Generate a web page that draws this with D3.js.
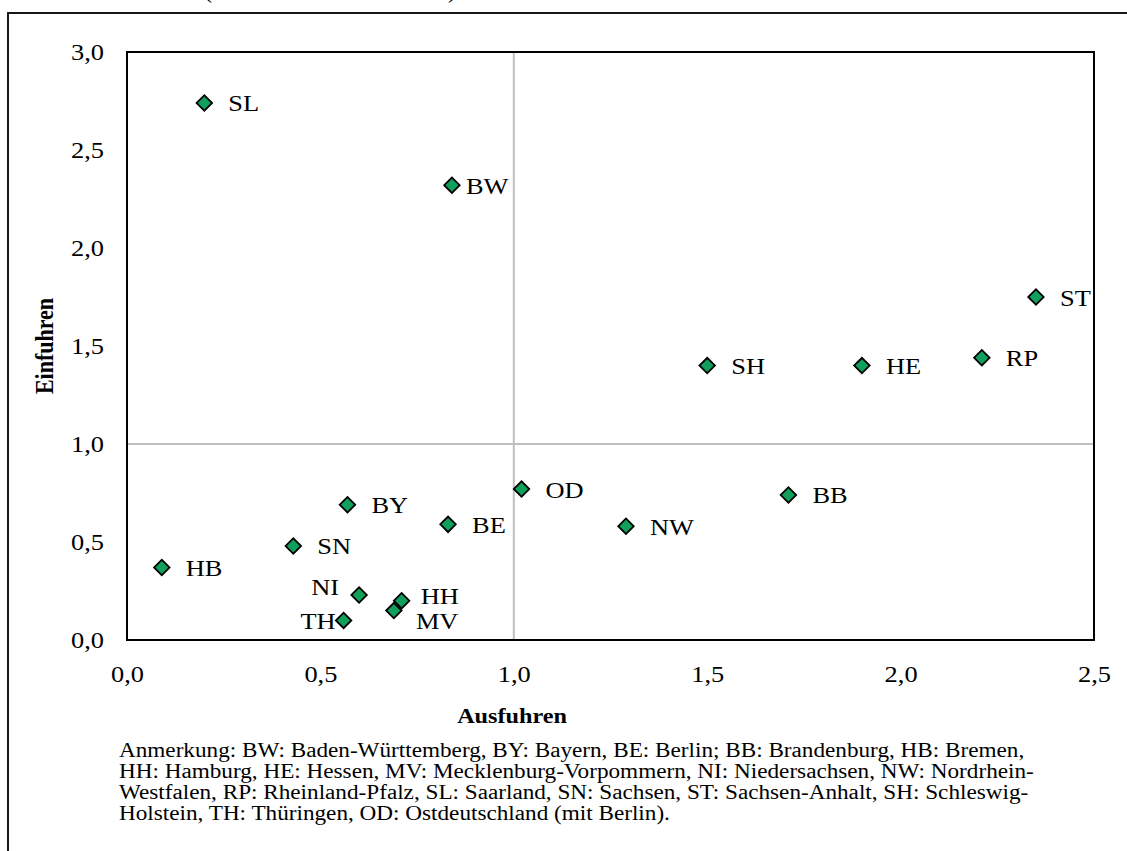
<!DOCTYPE html>
<html>
<head>
<meta charset="utf-8">
<script src="https://cdn.jsdelivr.net/npm/d3@7"></script>
<style>
  html, body { margin: 0; padding: 0; background: #fff; }
  svg { display: block; font-family: "Liberation Serif", "Times New Roman", serif; }
</style>
</head>
<body>
<svg id="chart" width="1127" height="851"></svg>
<script>
// ---- data ----
const codes   = ["SL", "BW", "ST", "SH", "HE", "RP", "BB", "OD", "NW", "BE", "BY", "SN", "HB", "NI", "HH", "MV", "TH"];
const exportsV = [0.20, 0.84, 2.35, 1.50, 1.90, 2.21, 1.71, 1.02, 1.29, 0.83, 0.57, 0.43, 0.09, 0.60, 0.71, 0.69, 0.56];
const importsV = [2.74, 2.32, 1.75, 1.40, 1.40, 1.44, 0.74, 0.77, 0.58, 0.59, 0.69, 0.48, 0.37, 0.23, 0.20, 0.15, 0.10];
const xTicks = [0, 0.5, 1.0, 1.5, 2.0, 2.5];
const yTicks = [0, 0.5, 1.0, 1.5, 2.0, 2.5, 3.0];
const xTitle = "Ausfuhren";
const yTitle = "Einfuhren";
const noteLines = [
  "Anmerkung: BW: Baden-Württemberg, BY: Bayern, BE: Berlin; BB: Brandenburg, HB: Bremen,",
  "HH: Hamburg, HE: Hessen, MV: Mecklenburg-Vorpommern, NI: Niedersachsen, NW: Nordrhein-",
  "Westfalen, RP: Rheinland-Pfalz, SL: Saarland, SN: Sachsen, ST: Sachsen-Anhalt, SH: Schleswig-",
  "Holstein, TH: Thüringen, OD: Ostdeutschland (mit Berlin)."
];

// label placement (style, not data)
const labelPlace = {
  BW: {dx: 14, dy: 8.5, anchor: "start"},
  NI: {dx: -20, dy: 0, anchor: "end"},
  TH: {dx: -8, dy: 9, anchor: "end"},
  HH: {dx: 19, dy: 3.5, anchor: "start"},
  MV: {dx: 22, dy: 18, anchor: "start"}
};
const defaultPlace = {dx: 24, dy: 8.5, anchor: "start"};
const place = c => labelPlace[c] || defaultPlace;

// ---- layout ----
const svg = d3.select("#chart");
const pL = 127, pR = 1094, pT = 52, pB = 640;
const x = d3.scaleLinear().domain([0, 2.5]).range([pL, pR]);
const y = d3.scaleLinear().domain([0, 3.0]).range([pB, pT]);
const fmt = d3.formatLocale({decimal: ",", thousands: ".", grouping: [3], currency: ["", " €"]}).format(".1f");
const stretch = 1.1;   // glyphs in the reference are slightly wider than tall

// outer frame
svg.append("rect").attr("x", 8).attr("y", 13).attr("width", 1200).attr("height", 900)
  .attr("fill", "none").attr("stroke", "#000").attr("stroke-width", 1.8);

// clipped title remnants at the very top
svg.append("text").attr("x", 204).attr("y", -2).attr("font-size", 24).text("(");
svg.append("text").attr("x", 448).attr("y", -2).attr("font-size", 24).text(")");

// crossing lines at 1,0
svg.append("line").attr("x1", x(1)).attr("x2", x(1)).attr("y1", pT).attr("y2", pB)
  .attr("stroke", "#bfbfbf").attr("stroke-width", 2);
svg.append("line").attr("x1", pL).attr("x2", pR).attr("y1", y(1)).attr("y2", y(1))
  .attr("stroke", "#bfbfbf").attr("stroke-width", 2);

// plot frame
svg.append("rect").attr("x", pL).attr("y", pT).attr("width", pR - pL).attr("height", pB - pT)
  .attr("fill", "none").attr("stroke", "#000").attr("stroke-width", 2);

// axes
const gx = svg.append("g").attr("transform", `translate(0,${pB})`)
  .call(d3.axisBottom(x).tickValues(xTicks).tickFormat(fmt).tickSize(0).tickPadding(25));
const gy = svg.append("g").attr("transform", `translate(${pL},0)`)
  .call(d3.axisLeft(y).tickValues(yTicks).tickFormat(fmt).tickSize(0).tickPadding(23));
[gx, gy].forEach(g => {
  g.select(".domain").remove();
  g.selectAll("text").attr("font-family", "Liberation Serif").attr("font-size", 24).attr("fill", "#000");
});
gx.selectAll("text").attr("transform", `scale(${stretch},1)`);
gy.selectAll("text").attr("x", 0).attr("transform", `translate(-23,0) scale(${stretch},1)`);

// axis titles
svg.append("text").attr("transform", `translate(512,723) scale(${stretch},1)`).attr("text-anchor", "middle")
  .attr("font-size", 22).attr("font-weight", "bold").text(xTitle);
svg.append("text").attr("transform", `translate(53,${(pT + pB) / 2}) scale(${stretch},1) rotate(-90)`)
  .attr("text-anchor", "middle").attr("font-size", 22).attr("font-weight", "bold").text(yTitle);

// points
const pts = codes.map((c, i) => ({code: c, ex: exportsV[i], im: importsV[i]}));
const diamond = d3.symbol().type(d3.symbolSquare).size(120);
svg.append("g").selectAll("path").data(pts).join("path")
  .attr("d", diamond())
  .attr("transform", d => `translate(${x(d.ex)},${y(d.im)}) rotate(45)`)
  .attr("fill", "#10a05c").attr("stroke", "#000").attr("stroke-width", 1.8);

svg.append("g").selectAll("text").data(pts).join("text")
  .attr("transform", d => `translate(${x(d.ex) + place(d.code).dx},${y(d.im) + place(d.code).dy}) scale(${stretch},1)`)
  .attr("text-anchor", d => place(d.code).anchor)
  .attr("font-size", 24).attr("fill", "#000")
  .text(d => d.code);

// note (horizontally stretched like the reference)
svg.append("g").attr("transform", "translate(119,0) scale(1.16,1)")
  .selectAll("text").data(noteLines).join("text")
  .attr("x", 0).attr("y", (d, i) => 757 + i * 21)
  .attr("font-size", 20).attr("fill", "#000").text(d => d);
</script>
</body>
</html>
